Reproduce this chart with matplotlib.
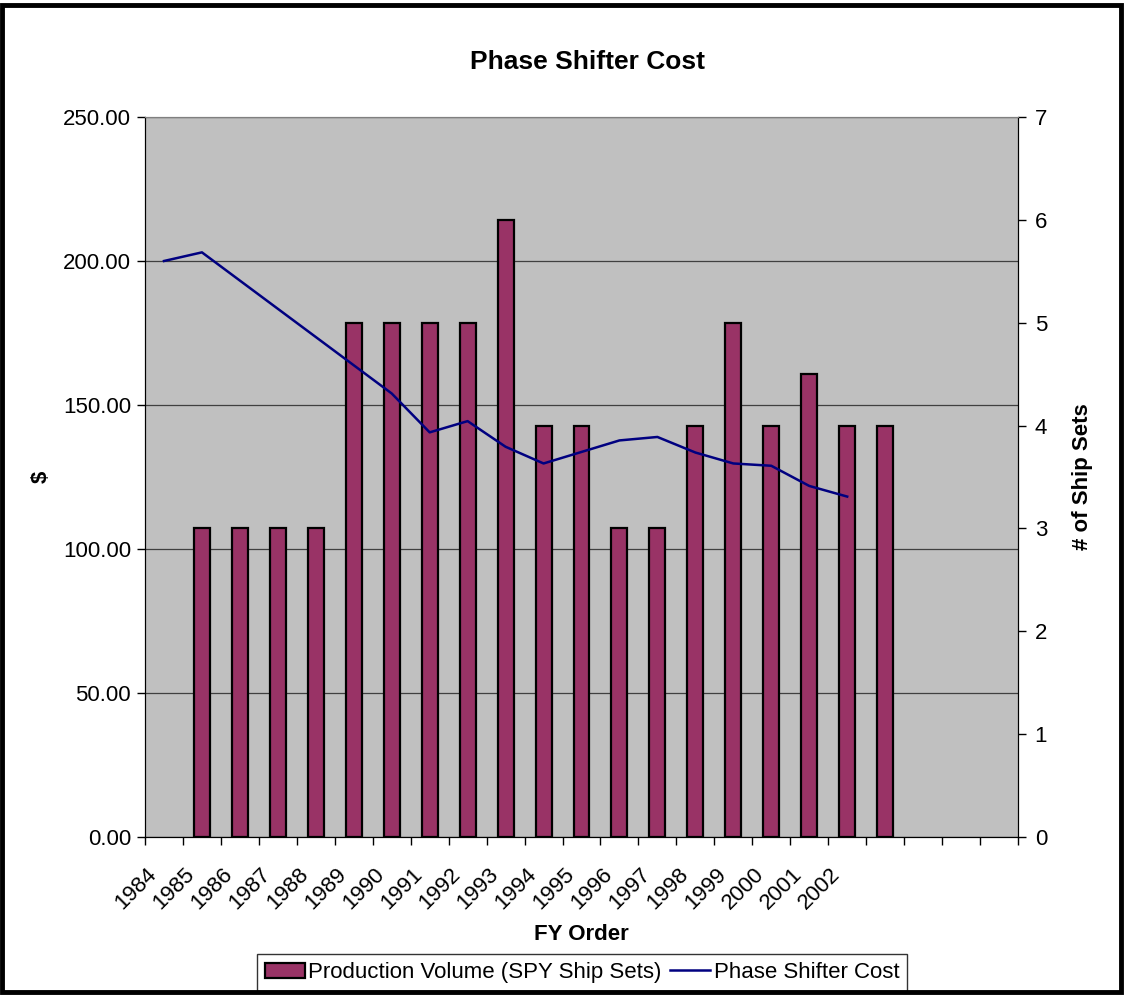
import matplotlib
matplotlib.use("Agg")
import matplotlib.pyplot as plt
import matplotlib.transforms as mtransforms
from matplotlib.patches import Rectangle, Patch
from matplotlib.lines import Line2D
import numpy as np

plt.rcParams['font.family'] = ['Liberation Sans', 'DejaVu Sans']

# category slots on the x axis (23 slots, only the first 19 labelled)
years = ["1984", "1985", "1986", "1987", "1988", "1989", "1990", "1991", "1992",
         "1993", "1994", "1995", "1996", "1997", "1998", "1999", "2000", "2001", "2002"]
n_slots = 23

# Phase shifter cost ($), slots 0..18
cost = [200.0, 203.0, 193.2, 183.4, 173.6, 163.8, 154.0, 140.5, 144.4, 135.5,
        129.7, 133.7, 137.7, 138.9, 133.5, 129.7, 128.9, 121.9, 118.2]

# Production volume (SPY ship sets), slots 1..19
ship_sets = [3, 3, 3, 3, 5, 5, 5, 5, 6, 4, 4, 3, 3, 4, 5, 4, 4.5, 4, 4]

cost_x = np.arange(len(cost))
bar_x = np.arange(1, len(ship_sets) + 1)

bar_color = "#993366"
line_color = "#000080"
bg_color = "#C0C0C0"

fig = plt.figure(figsize=(11.25, 9.96), dpi=100)
ax = fig.add_axes([145 / 1125, 1 - 837 / 996, 873 / 1125, 720 / 996])
ax.set_facecolor(bg_color)

# left axis with gridlines
ax.set_ylim(0, 250)
ax.set_yticks(np.arange(0, 251, 50))
ax.set_yticklabels(["%.2f" % v for v in np.arange(0, 251, 50)], fontsize=16)
ax.yaxis.grid(True, color="#404040", linewidth=0.9)
ax.set_axisbelow(True)
ax.set_xlim(-0.5, n_slots - 0.5)
ax.set_xticks(np.arange(len(years)))
ax.set_xticklabels(years, rotation=45, ha="right", va="top", fontsize=16)
ax.set_xticks(np.arange(-0.5, n_slots), minor=True)
ax.tick_params(axis="x", which="major", length=0, pad=19)
ax.tick_params(axis="x", which="minor", length=6, width=1, direction="out")
ax.tick_params(axis="y", length=6, width=1, direction="out", pad=4)
offset = mtransforms.ScaledTranslation(-3 / 100, 0, fig.dpi_scale_trans)
for lab in ax.get_xticklabels():
    lab.set_transform(lab.get_transform() + offset)
ax.set_ylabel("$", fontsize=16, fontweight="bold", labelpad=8)
ax.set_xlabel("FY Order", fontsize=16, fontweight="bold", labelpad=8)
ax.spines["top"].set_color("#808080")

# bars on the right axis
ax2 = ax.twinx()
ax2.bar(bar_x, ship_sets, width=0.42, color=bar_color, edgecolor="black", linewidth=1.6)
ax2.set_ylim(0, 7)
ax2.set_yticks(range(0, 8))
ax2.set_yticklabels([str(v) for v in range(0, 8)], fontsize=16)
ax2.tick_params(axis="y", length=6, width=1, direction="out", pad=6)
ax2.set_ylabel("# of Ship Sets", fontsize=16, fontweight="bold", labelpad=18)
ax2.spines["top"].set_color("#808080")

# cost line on top of the bars
ax3 = ax.twinx()
ax3.plot(cost_x, cost, color=line_color, linewidth=1.8)
ax3.set_ylim(0, 250)
ax3.set_yticks([])
ax3.set_xlim(-0.5, n_slots - 0.5)
for sp in ax3.spines.values():
    sp.set_visible(False)

fig.suptitle("Phase Shifter Cost", fontsize=19, fontweight="bold",
             x=588 / 1125, y=1 - 62 / 996, va="center")

handles = [Patch(facecolor=bar_color, edgecolor="black", linewidth=1.6),
           Line2D([], [], color=line_color, linewidth=1.8)]
leg = fig.legend(handles, ["Production Volume (SPY Ship Sets)", "Phase Shifter Cost"],
                 loc="lower center", bbox_to_anchor=(582 / 1125, -6 / 996), ncol=2,
                 fontsize=16, frameon=True, fancybox=False, edgecolor="black",
                 handlelength=1.8, handletextpad=0.15, columnspacing=0.4,
                 borderpad=0.35, borderaxespad=0.5)
leg.get_frame().set_linewidth(1.0)

# outer chart border
fig.patches.append(Rectangle((2 / 1125, 4 / 996), 1119 / 1125, 987 / 996,
                             transform=fig.transFigure, fill=False,
                             edgecolor="black", linewidth=3.5, zorder=10))

fig.savefig("out.png", dpi=100)
